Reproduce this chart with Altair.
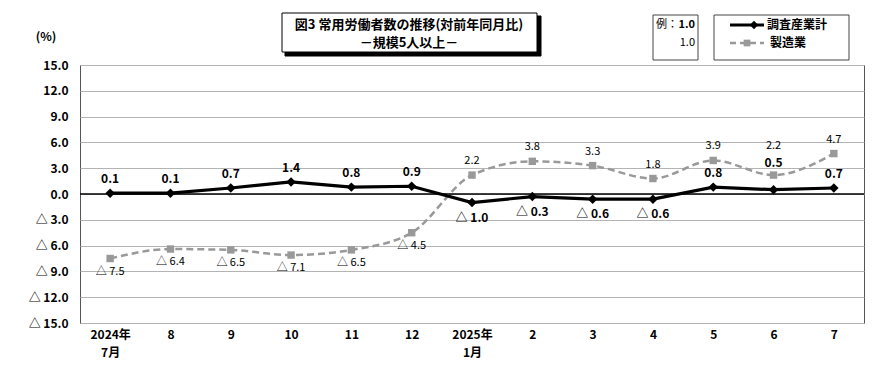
import altair as alt
import pandas as pd

months = ["2024年\n7月", "8", "9", "10", "11", "12", "2025年\n1月", "2", "3", "4", "5", "6", "7"]
total = [0.1, 0.1, 0.7, 1.4, 0.8, 0.9, -1.0, -0.3, -0.6, -0.6, 0.8, 0.5, 0.7]
manuf = [-7.5, -6.4, -6.5, -7.1, -6.5, -4.5, 2.2, 3.8, 3.3, 1.8, 3.9, 2.2, 4.7]
y_ticks = [-15, -12, -9, -6, -3, 0, 3, 6, 9, 12, 15]

FONT = "Noto Sans CJK JP"
JFONT = "Noto Sans CJK JP"

def lab(v):
    return f"{v:.1f}" if v >= 0 else f"△ {abs(v):.1f}"

df_t = pd.DataFrame({"月": months, "値": total, "label": [lab(v) for v in total]})
df_m = pd.DataFrame({"月": months, "値": manuf, "label": [lab(v) for v in manuf]})
df_zero = pd.DataFrame({"値": [0]})

xenc = alt.X("月:N", sort=months, scale=alt.Scale(type="point", padding=0.5),
             axis=alt.Axis(title=None, labelAngle=0, ticks=False, domain=False, grid=False,
                           labelExpr="split(datum.label, '\\n')", labelLineHeight=18,
                           labelFont=FONT, labelFontSize=12, labelFontWeight="bold",
                           labelColor="#000", labelPadding=6, labelBaseline="top",
                           labelOverlap=False))
yscale = alt.Scale(domain=[-15, 15], nice=False, zero=False)
yaxis = alt.Axis(title=None, values=y_ticks, ticks=False, domain=False,
                 gridColor="#b4b4b4", gridWidth=1, labelOverlap=False, labelFlush=False,
                 labelExpr="datum.value < 0 ? '△ ' + format(-datum.value, '.1f') : format(datum.value, '.1f')",
                 labelFont=FONT, labelFontSize=12, labelFontWeight="bold",
                 labelColor="#000", labelPadding=12)
yenc = alt.Y("値:Q", scale=yscale, axis=yaxis)

one = pd.DataFrame({"a": [0]})

zero = alt.Chart(df_zero).mark_rule(color="#000", strokeWidth=1.6).encode(y=yenc)

line_m = alt.Chart(df_m).mark_line(color="#999999", strokeWidth=2.5, strokeDash=[7, 4],
                                   interpolate="monotone").encode(x=xenc, y=yenc)
pts_m = alt.Chart(df_m).mark_point(shape="square", filled=True, color="#999999", size=55, opacity=1).encode(x=xenc, y=yenc)
line_t = alt.Chart(df_t).mark_line(color="#000", strokeWidth=3.2).encode(x=xenc, y=yenc)
pts_t = alt.Chart(df_t).mark_point(shape="diamond", filled=True, color="#000", size=90, opacity=1).encode(x=xenc, y=yenc)

def labels(df, dy_pos, dy_neg, weight, size, special=None, special_dy=0):
    base = alt.Chart(df)
    cond = "datum['値'] >= 0"
    if special:
        cond += f" && datum['月'] != '{special}'"
    pos = base.transform_filter(cond).mark_text(
        dy=dy_pos, font=FONT, fontSize=size, fontWeight=weight, color="#000").encode(
        x=xenc, y=yenc, text="label:N")
    neg = base.transform_filter("datum['値'] < 0").mark_text(
        dy=dy_neg, font=FONT, fontSize=size, fontWeight=weight, color="#000").encode(
        x=xenc, y=yenc, text="label:N")
    out = pos + neg
    if special:
        sp = base.transform_filter(f"datum['月'] == '{special}'").mark_text(
            dy=special_dy, font=FONT, fontSize=size, fontWeight=weight, color="#000").encode(
            x=xenc, y=yenc, text="label:N")
        out = out + sp
    return out

lab_t = labels(df_t, -14, 15, "bold", 12, special="6", special_dy=-27)
lab_m = labels(df_m, -14, 13, "normal", 11, special="6", special_dy=-29)

# decorations (title box, example box, legend box)
def rect(x, x2, y, y2, fill, stroke, sw=1):
    return alt.Chart(one).mark_rect(fill=fill, stroke=stroke, strokeWidth=sw).encode(
        x=alt.value(x), x2=alt.value(x2), y=alt.value(y), y2=alt.value(y2))

def text(t, x, y, size=12, weight="bold", align="center", font=JFONT):
    return alt.Chart(one).mark_text(text=t, font=font, fontSize=size, fontWeight=weight,
                                    align=align, baseline="middle", color="#000").encode(
        x=alt.value(x), y=alt.value(y))

title_shadow = rect(205, 461, -49, -9, "#000", "#000")
title_box = rect(202, 457, -52, -13, "#fff", "#000")
title1 = text("図3  常用労働者数の推移(対前年同月比)", 329, -40, 13)
title2 = text("－規模5人以上－", 329, -22, 13)

ex_box = rect(573, 618, -50, -5, "#fff", "#444")
ex1a = text("例：", 576, -40, 11, "normal", "left")
ex1b = text("1.0", 615, -40, 11, "bold", "right", FONT)
ex2 = text("1.0", 615, -22, 11, "normal", "right", FONT)

lg_box = rect(634, 769, -50, -5, "#fff", "#444")
lg_l1 = alt.Chart(one).mark_rule(color="#000", strokeWidth=3).encode(
    x=alt.value(650), x2=alt.value(684), y=alt.value(-40))
lg_p1 = alt.Chart(one).mark_point(shape="diamond", filled=True, color="#000", size=70, opacity=1).encode(
    x=alt.value(674), y=alt.value(-40))
lg_t1 = text("調査産業計", 687, -40, 12, "bold", "left")
lg_l2 = alt.Chart(one).mark_rule(color="#999999", strokeWidth=2.5, strokeDash=[6, 4]).encode(
    x=alt.value(650), x2=alt.value(684), y=alt.value(-22))
lg_p2 = alt.Chart(one).mark_point(shape="square", filled=True, color="#999999", size=45, opacity=1).encode(
    x=alt.value(667), y=alt.value(-22))
lg_t2 = text("製造業", 690, -22, 12, "bold", "left")

pct = text("(%)", -34, -28, 12, "bold", "center", FONT)

chart = alt.layer(
    zero, line_m, pts_m, line_t, pts_t, lab_t, lab_m,
    title_shadow, title_box, title1, title2,
    ex_box, ex1a, ex1b, ex2,
    lg_box, lg_l1, lg_p1, lg_t1, lg_l2, lg_p2, lg_t2, pct
).properties(
    width=784, height=258,
    autosize=alt.AutoSizeParams(type="none"),
    padding={"left": 72, "top": 57, "right": 10, "bottom": 45},
    background="#ffffff",
).configure_view(stroke="#555555", strokeWidth=1)

chart.save("out.html", embed_options={"renderer": "svg", "actions": False})
